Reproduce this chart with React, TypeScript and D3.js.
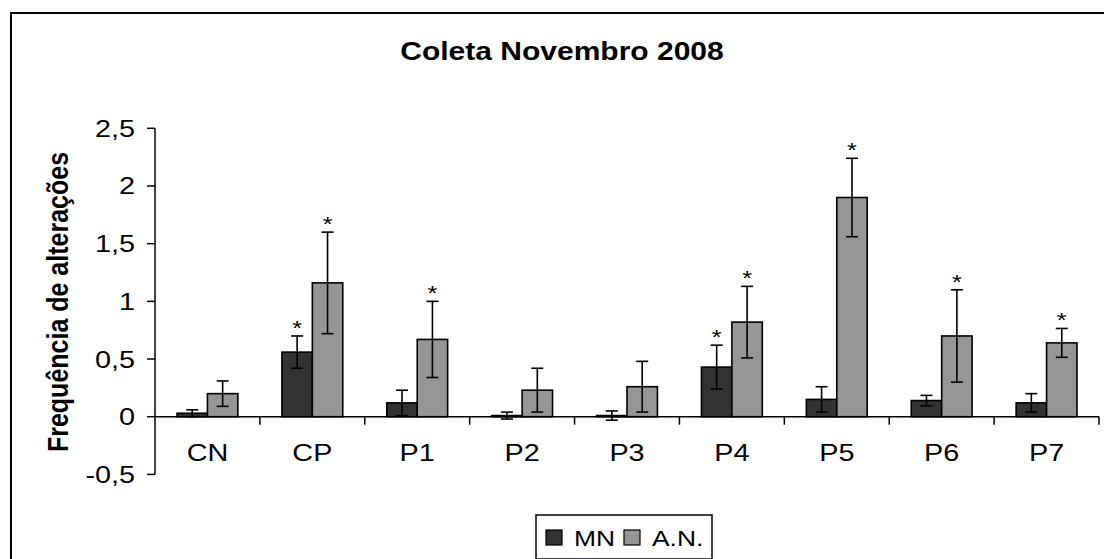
import * as d3 from "d3";

const categories = ["CN", "CP", "P1", "P2", "P3", "P4", "P5", "P6", "P7"];
const mnValues = [0.03, 0.56, 0.12, 0.01, 0.01, 0.43, 0.15, 0.14, 0.12];
const mnErrors = [0.03, 0.14, 0.11, 0.03, 0.04, 0.19, 0.11, 0.045, 0.08];
const anValues = [0.2, 1.16, 0.67, 0.23, 0.26, 0.82, 1.9, 0.7, 0.64];
const anErrors = [0.11, 0.44, 0.33, 0.19, 0.22, 0.31, 0.34, 0.4, 0.125];
const mnStars = [false, true, false, false, false, true, false, false, false];
const anStars = [false, true, true, false, false, true, true, true, true];
const yTicks = [-0.5, 0, 0.5, 1, 1.5, 2, 2.5];

const W = 1104;
const H = 559;
const FONT = "'Liberation Sans', Arial, sans-serif";
const MN_COLOR = "#333333";
const AN_COLOR = "#969696";
// the source picture is stretched sideways, text too
const SX = 1.2;

const fmt = (v: number) => String(v).replace(".", ",");

const Label = ({ x, y, size, anchor = "start", bold = false, children }: any) => (
  <text
    transform={`translate(${x},${y}) scale(${SX},1)`}
    textAnchor={anchor}
    fontSize={size}
    fontWeight={bold ? "bold" : "normal"}
  >
    {children}
  </text>
);

export default function App() {
  const x0 = 155;
  const x1 = 1099;
  const y = d3.scaleLinear().domain([-0.5, 2.5]).range([474.4, 128.3]);
  const x = d3.scaleBand().domain(categories).range([x0, x1]);
  const groupW = x.bandwidth() * 0.58;
  const barW = groupW / 2;
  const series = [
    { key: "MN", values: mnValues, errors: mnErrors, stars: mnStars, color: MN_COLOR, off: 0 },
    { key: "AN", values: anValues, errors: anErrors, stars: anStars, color: AN_COLOR, off: barW },
  ];

  return (
    <svg
      width={W}
      height={H}
      style={{ position: "absolute", left: 0, top: 0, display: "block", background: "#fff" }}
      fontFamily={FONT}
    >
      {/* outer frame, only left and top visible */}
      <line x1={11} x2={11} y1={12} y2={H} stroke="#000" strokeWidth={2} />
      <line x1={10} x2={W} y1={13} y2={13} stroke="#000" strokeWidth={2} />

      <Label x={562} y={60} size={25} anchor="middle" bold>
        Coleta Novembro 2008
      </Label>

      <text
        transform={`translate(68,302) scale(${SX},1) rotate(-90)`}
        textAnchor="middle"
        fontSize={25}
        fontWeight="bold"
      >
        Frequência de alterações
      </text>

      {/* y axis */}
      <line x1={x0} x2={x0} y1={y(2.5)} y2={y(-0.5)} stroke="#000" strokeWidth={1.5} />
      {yTicks.map((t) => (
        <g key={t}>
          <line x1={x0 - 8} x2={x0} y1={y(t)} y2={y(t)} stroke="#000" strokeWidth={1.5} />
          <Label x={135} y={y(t) + 8.5} size={24} anchor="end">
            {fmt(t)}
          </Label>
        </g>
      ))}

      {/* bars */}
      {series.map((s) =>
        categories.map((c, i) => {
          const bx = (x(c) ?? 0) + (x.bandwidth() - groupW) / 2 + s.off;
          const cx = bx + barW / 2;
          const v = s.values[i];
          const e = s.errors[i];
          const top = y(Math.max(v, 0));
          const hgt = Math.abs(y(v) - y(0));
          return (
            <g key={s.key + c}>
              <rect x={bx} y={top} width={barW} height={hgt} fill={s.color} stroke="#000" strokeWidth={1.6} />
              <line x1={cx} x2={cx} y1={y(v + e)} y2={y(v - e)} stroke="#000" strokeWidth={1.6} />
              <line x1={cx - 6} x2={cx + 6} y1={y(v + e)} y2={y(v + e)} stroke="#000" strokeWidth={1.6} />
              <line x1={cx - 6} x2={cx + 6} y1={y(v - e)} y2={y(v - e)} stroke="#000" strokeWidth={1.6} />
              {s.stars[i] && (
                <Label x={cx} y={y(v + e) - 1} size={21} anchor="middle">
                  *
                </Label>
              )}
            </g>
          );
        })
      )}

      {/* x axis at zero */}
      <line x1={x0} x2={x1} y1={y(0)} y2={y(0)} stroke="#000" strokeWidth={1.5} />
      {categories.map((c) => (
        <line
          key={"t" + c}
          x1={(x(c) ?? 0) + x.bandwidth()}
          x2={(x(c) ?? 0) + x.bandwidth()}
          y1={y(0)}
          y2={y(0) + 8}
          stroke="#000"
          strokeWidth={1.5}
        />
      ))}
      {categories.map((c) => (
        <Label key={"l" + c} x={(x(c) ?? 0) + x.bandwidth() / 2} y={461} size={24} anchor="middle">
          {c}
        </Label>
      ))}

      {/* legend */}
      <rect x={536} y={515} width={176} height={44} fill="#fff" stroke="#000" strokeWidth={1.5} />
      <rect x={546} y={530} width={16} height={15} fill={MN_COLOR} stroke="#000" strokeWidth={1.2} />
      <Label x={574} y={546} size={22}>MN</Label>
      <rect x={624} y={530} width={16} height={15} fill={AN_COLOR} stroke="#000" strokeWidth={1.2} />
      <Label x={652} y={546} size={22}>A.N.</Label>
    </svg>
  );
}
